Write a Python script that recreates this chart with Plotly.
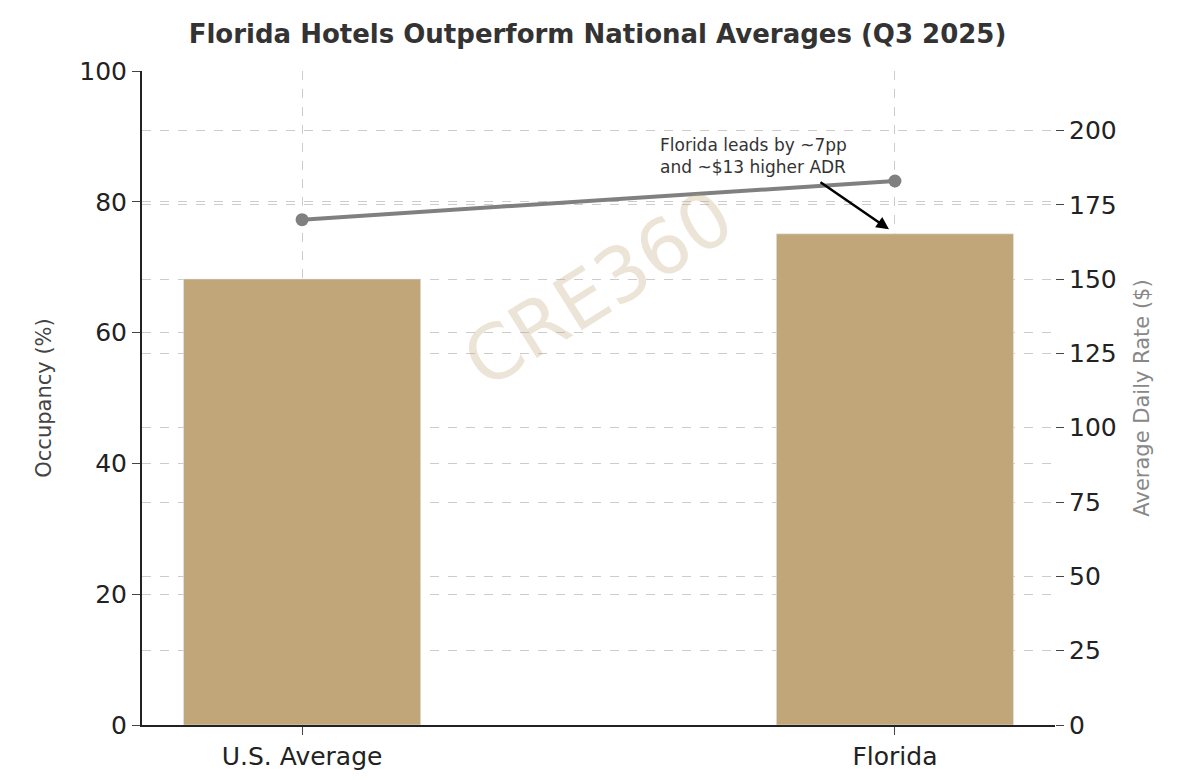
import plotly.graph_objects as go

categories = ["U.S. Average", "Florida"]
occupancy = [68.2, 75.1]
adr = [170, 183]

fig = go.Figure()
fig.add_trace(go.Bar(x=[0, 1], y=occupancy, width=0.4, marker_color="#c0a679", showlegend=False))
fig.add_trace(go.Scatter(x=[0, 1], y=adr, yaxis="y2", mode="lines+markers",
                         line=dict(color="#808080", width=4), marker=dict(size=13, color="#808080"),
                         showlegend=False))

grid = dict(showgrid=True, gridcolor="#cccccc", griddash="dash", gridwidth=1, automargin=False)
fig.update_layout(
    width=1179, height=780, margin=dict(l=134, r=132, t=63, b=63),
    plot_bgcolor="white", paper_bgcolor="white",
    font=dict(family="DejaVu Sans", size=25, color="#222"),
    title=dict(text="<b>Florida Hotels Outperform National Averages (Q3 2025)</b>", automargin=False,
               x=0.5, xanchor="center", y=0.978, yanchor="top", font=dict(size=26, color="#333")),
    xaxis=dict(tickvals=[0, 1], ticktext=categories, range=[-0.27, 1.27], ticks="outside",
               ticklen=8, showline=True, linecolor="#222", linewidth=2, zeroline=False, **grid),
    yaxis=dict(title=dict(text="Occupancy (%)", font=dict(size=21, color="#444"), standoff=22),
               range=[0, 100], dtick=20, ticks="outside", ticklen=8, showline=True,
               linecolor="#222", linewidth=2, zeroline=False, **grid),
    yaxis2=dict(title=dict(text="Average Daily Rate ($)", font=dict(size=21, color="#888"), standoff=18),
                overlaying="y", side="right", range=[0, 220], dtick=25, ticks="outside",
                ticklen=8, zeroline=False, **grid),
)
fig.add_annotation(text="CRE360", x=0.5, y=0.85, xref="paper", yref="paper", showarrow=False,
                   textangle=-32, font=dict(size=76, color="rgba(192,166,121,0.3)"))
fig.add_annotation(text="Florida leads by ~7pp<br>and ~$13 higher ADR", x=0.565, y=0.905,
                   xref="paper", yref="paper", showarrow=False, xanchor="left", yanchor="top",
                   align="left", font=dict(size=17, color="#333"))
fig.add_annotation(x=0.99, y=75.8, xref="x", yref="y", text="", showarrow=True,
                   ax=-70, ay=-48, arrowhead=2, arrowwidth=2.5, arrowcolor="black", standoff=0)
fig.write_html("out.html")
